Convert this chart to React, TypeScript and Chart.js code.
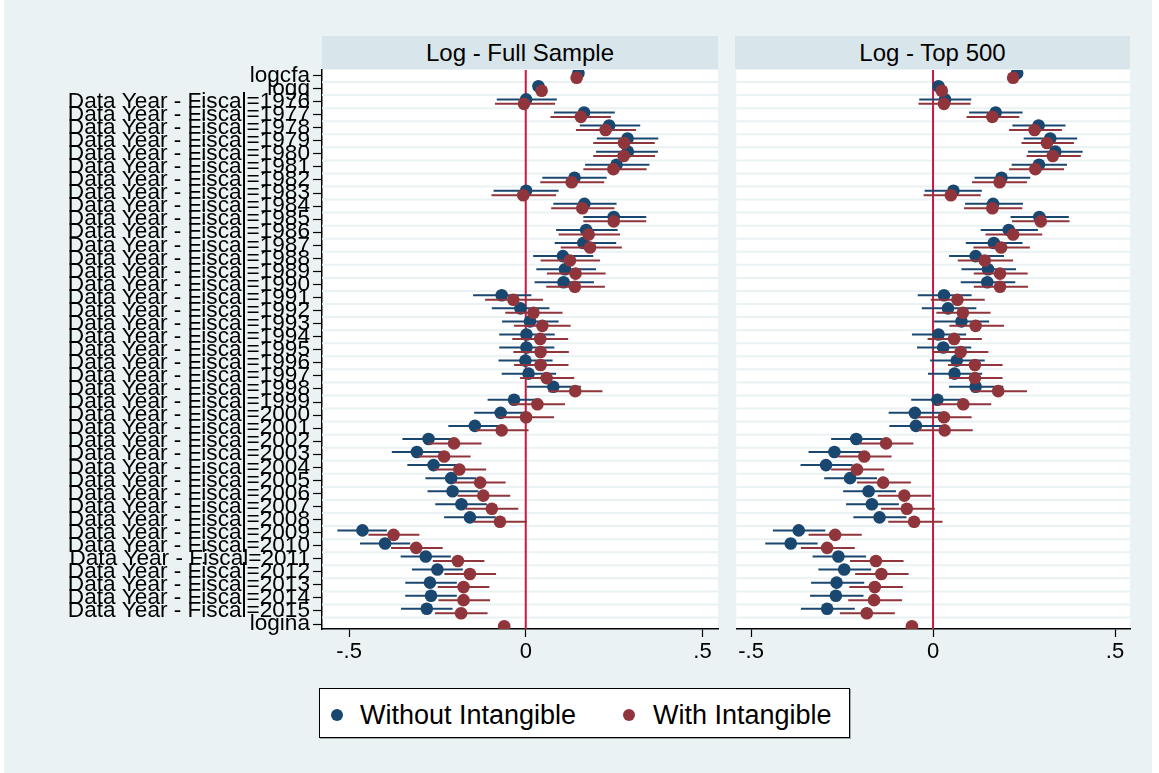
import React, { useEffect, useRef } from "react";
import { Chart, registerables } from "chart.js";

Chart.register(...registerables);

const FONT = '"Liberation Sans", Arial, Helvetica, sans-serif';
const BLUE = "#1A476F";
const RED = "#90353B";
const ZERO_LINE = "#C81840";
const GRID = "#EAF2F3";

// Rows (top to bottom)
const years = [
  1976, 1977, 1978, 1979, 1980, 1981, 1982, 1983, 1984, 1985,
  1986, 1987, 1988, 1989, 1990, 1991, 1992, 1993, 1994, 1995,
  1996, 1997, 1998, 1999, 2000, 2001, 2002, 2003, 2004, 2005,
  2006, 2007, 2008, 2009, 2010, 2011, 2012, 2013, 2014, 2015,
];
const rowLabels: string[] = ["logcfa", "logq", ...years.map((y) => `Data Year - Fiscal=${y}`), "logina"];

const xTickValues = [-0.5, 0, 0.5];
const xTickLabels = ["-.5", "0", ".5"];

const panelTitles = ["Log - Full Sample", "Log - Top 500"];
const seriesNames = ["Without Intangible", "With Intangible"];

// ---------- Log - Full Sample ----------
const fullWithoutCoef = [
  0.149, 0.036,
  0.001, 0.165, 0.236, 0.288, 0.289, 0.257, 0.138, 0.001, 0.166, 0.249,
  0.171, 0.163, 0.105, 0.111, 0.107, -0.068, -0.015, 0.012, 0.002, 0.002,
  -0.001, 0.008, 0.078, -0.033, -0.071, -0.144, -0.275, -0.308, -0.261, -0.211,
  -0.207, -0.182, -0.158, -0.462, -0.398, -0.283, -0.250, -0.271, -0.268, -0.280,
  null,
];
const fullWithoutLo = [
  null, null,
  -0.082, 0.080, 0.153, 0.201, 0.199, 0.168, 0.047, -0.091, 0.078, 0.163,
  0.086, 0.082, 0.021, 0.030, 0.025, -0.149, -0.096, -0.067, -0.075, -0.075,
  -0.077, -0.068, 0.003, -0.108, -0.146, -0.219, -0.349, -0.379, -0.335, -0.284,
  -0.278, -0.256, -0.231, -0.533, -0.469, -0.354, -0.322, -0.341, -0.341, -0.353,
  null,
];
const fullWithoutHi = [
  null, null,
  0.088, 0.252, 0.324, 0.375, 0.374, 0.350, 0.229, 0.093, 0.257, 0.341,
  0.260, 0.256, 0.191, 0.199, 0.193, 0.016, 0.067, 0.093, 0.082, 0.081,
  0.076, 0.086, 0.156, 0.042, 0.003, -0.070, -0.209, -0.238, -0.192, -0.141,
  -0.134, -0.110, -0.085, -0.393, -0.327, -0.212, -0.178, -0.195, -0.195, -0.207,
  null,
];
const fullWithCoef = [
  0.144, 0.045,
  -0.005, 0.156, 0.226, 0.278, 0.277, 0.248, 0.130, -0.007, 0.160, 0.249,
  0.178, 0.182, 0.125, 0.141, 0.139, -0.035, 0.022, 0.047, 0.041, 0.042,
  0.042, 0.059, 0.140, 0.033, 0.001, -0.068, -0.203, -0.231, -0.188, -0.129,
  -0.120, -0.096, -0.073, -0.374, -0.310, -0.192, -0.158, -0.176, -0.176, -0.183,
  -0.061,
];
const fullWithLo = [
  null, null,
  -0.087, 0.070, 0.142, 0.191, 0.191, 0.163, 0.041, -0.097, 0.072, 0.163,
  0.093, 0.099, 0.042, 0.060, 0.058, -0.115, -0.058, -0.033, -0.038, -0.035,
  -0.033, -0.016, 0.064, -0.042, -0.075, -0.143, -0.275, -0.304, -0.258, -0.203,
  -0.193, -0.170, -0.148, -0.445, -0.381, -0.263, -0.230, -0.249, -0.247, -0.257,
  null,
];
const fullWithHi = [
  null, null,
  0.083, 0.241, 0.312, 0.365, 0.366, 0.342, 0.222, 0.086, 0.251, 0.341,
  0.267, 0.272, 0.210, 0.226, 0.224, 0.049, 0.104, 0.127, 0.120, 0.122,
  0.121, 0.137, 0.217, 0.111, 0.080, 0.008, -0.125, -0.156, -0.112, -0.057,
  -0.044, -0.021, 0.003, -0.301, -0.235, -0.117, -0.084, -0.103, -0.101, -0.108,
  null,
];

// ---------- Log - Top 500 ----------
const topWithoutCoef = [
  0.231, 0.015,
  0.033, 0.172, 0.290, 0.322, 0.336, 0.291, 0.188, 0.056, 0.165, 0.292,
  0.208, 0.167, 0.117, 0.151, 0.149, 0.030, 0.041, 0.078, 0.015, 0.028,
  0.065, 0.059, 0.117, 0.012, -0.050, -0.047, -0.211, -0.271, -0.294, -0.228,
  -0.177, -0.168, -0.147, -0.369, -0.391, -0.260, -0.244, -0.265, -0.267, -0.291,
  null,
];
const topWithoutLo = [
  null, null,
  -0.038, 0.099, 0.218, 0.249, 0.261, 0.216, 0.114, -0.023, 0.088, 0.213,
  0.131, 0.090, 0.044, 0.078, 0.076, -0.042, -0.031, 0.003, -0.058, -0.044,
  -0.008, -0.014, 0.044, -0.060, -0.122, -0.120, -0.280, -0.342, -0.364, -0.299,
  -0.247, -0.239, -0.219, -0.440, -0.461, -0.331, -0.315, -0.335, -0.338, -0.363,
  null,
];
const topWithoutHi = [
  null, null,
  0.105, 0.246, 0.364, 0.396, 0.411, 0.368, 0.267, 0.134, 0.247, 0.373,
  0.288, 0.246, 0.195, 0.228, 0.226, 0.106, 0.119, 0.154, 0.091, 0.105,
  0.142, 0.135, 0.193, 0.085, 0.023, 0.025, -0.139, -0.198, -0.221, -0.154,
  -0.102, -0.094, -0.073, -0.296, -0.317, -0.184, -0.170, -0.189, -0.191, -0.215,
  null,
];
const topWithCoef = [
  0.220, 0.024,
  0.030, 0.163, 0.279, 0.313, 0.329, 0.281, 0.183, 0.049, 0.163, 0.296,
  0.220, 0.187, 0.142, 0.184, 0.184, 0.067, 0.082, 0.117, 0.058, 0.076,
  0.115, 0.115, 0.179, 0.083, 0.030, 0.032, -0.129, -0.189, -0.209, -0.137,
  -0.079, -0.072, -0.052, -0.269, -0.291, -0.157, -0.142, -0.160, -0.162, -0.182,
  -0.058,
];
const topWithLo = [
  null, null,
  -0.040, 0.092, 0.209, 0.243, 0.257, 0.209, 0.107, -0.026, 0.085, 0.217,
  0.144, 0.111, 0.068, 0.112, 0.112, -0.006, 0.009, 0.045, -0.015, 0.002,
  0.041, 0.044, 0.108, 0.010, -0.042, -0.040, -0.201, -0.260, -0.280, -0.209,
  -0.152, -0.143, -0.123, -0.342, -0.363, -0.228, -0.214, -0.230, -0.233, -0.256,
  null,
];
const topWithHi = [
  null, null,
  0.103, 0.237, 0.354, 0.387, 0.406, 0.360, 0.258, 0.131, 0.245, 0.375,
  0.300, 0.266, 0.220, 0.260, 0.261, 0.142, 0.158, 0.195, 0.134, 0.152,
  0.191, 0.191, 0.258, 0.160, 0.106, 0.109, -0.054, -0.114, -0.134, -0.061,
  -0.005, 0.005, 0.026, -0.196, -0.215, -0.081, -0.067, -0.083, -0.085, -0.105,
  null,
];

type Arr = (number | null)[];

function ciData(lo: Arr, hi: Arr, off: number) {
  const out: { x: number | null; y: number | null }[] = [];
  lo.forEach((l, i) => {
    const h = hi[i];
    if (l == null || h == null) return;
    out.push({ x: l, y: i + off }, { x: h, y: i + off }, { x: null, y: null });
  });
  return out;
}
function ptData(c: Arr, off: number) {
  const out: { x: number; y: number }[] = [];
  c.forEach((v, i) => {
    if (v != null) out.push({ x: v, y: i + off });
  });
  return out;
}

const OFF = 0.17;

const panelPlugin = {
  id: "panelDecor",
  beforeDraw(chart: any) {
    const { ctx, chartArea: a } = chart;
    ctx.save();
    ctx.fillStyle = "#FFFFFF";
    ctx.fillRect(a.left, a.top, a.right - a.left, a.bottom - a.top);
    ctx.restore();
  },
  beforeDatasetsDraw(chart: any) {
    const { ctx, chartArea: a, scales } = chart;
    const y = scales.y;
    const x = scales.x;
    ctx.save();
    ctx.strokeStyle = GRID;
    ctx.lineWidth = 2;
    for (let i = 0; i < rowLabels.length - 1; i++) {
      const py = y.getPixelForValue(i + 0.5);
      ctx.beginPath();
      ctx.moveTo(a.left, py);
      ctx.lineTo(a.right, py);
      ctx.stroke();
    }
    const px = x.getPixelForValue(0);
    ctx.strokeStyle = ZERO_LINE;
    ctx.lineWidth = 2;
    ctx.beginPath();
    ctx.moveTo(px, a.top);
    ctx.lineTo(px, a.bottom);
    ctx.stroke();
    ctx.restore();
  },
};

type PanelProps = {
  left: number;
  top: number;
  width: number;
  height: number;
  padding: { top: number; left: number; right: number; bottom: number };
  xMin: number;
  xMax: number;
  showY: boolean;
  yAxisWidth: number;
  woCoef: Arr; woLo: Arr; woHi: Arr;
  wCoef: Arr; wLo: Arr; wHi: Arr;
};

function Panel(p: PanelProps) {
  const ref = useRef<HTMLCanvasElement | null>(null);
  useEffect(() => {
    if (!ref.current) return;
    const chart = new Chart(ref.current, {
      type: "scatter",
      data: {
        datasets: [
          {
            label: seriesNames[1],
            data: ptData(p.wCoef, OFF),
            backgroundColor: RED,
            borderColor: RED,
            pointRadius: 6.3,
            pointBorderWidth: 0,
            showLine: false,
            clip: 0,
            order: 0,
          } as any,
          {
            label: seriesNames[1] + " CI",
            data: ciData(p.wLo, p.wHi, OFF),
            borderColor: RED,
            borderWidth: 2,
            pointRadius: 0,
            showLine: true,
            spanGaps: false,
            clip: 0,
            order: 1,
          } as any,
          {
            label: seriesNames[0],
            data: ptData(p.woCoef, -OFF),
            backgroundColor: BLUE,
            borderColor: BLUE,
            pointRadius: 6.3,
            pointBorderWidth: 0,
            showLine: false,
            clip: 0,
            order: 2,
          } as any,
          {
            label: seriesNames[0] + " CI",
            data: ciData(p.woLo, p.woHi, -OFF),
            borderColor: BLUE,
            borderWidth: 2,
            pointRadius: 0,
            showLine: true,
            spanGaps: false,
            clip: 0,
            order: 3,
          } as any,
        ],
      },
      options: {
        animation: false,
        responsive: false,
        maintainAspectRatio: false,
        devicePixelRatio: 1,
        layout: { padding: p.padding },
        plugins: {
          legend: { display: false },
          tooltip: { enabled: false },
          title: { display: false },
        },
        events: [],
        scales: {
          x: {
            type: "linear",
            min: p.xMin,
            max: p.xMax,
            afterBuildTicks: (s: any) => {
              s.ticks = xTickValues.map((v) => ({ value: v }));
            },
            afterFit: (s: any) => {
              s.height = 51;
              s.paddingLeft = 0;
              s.paddingRight = 0;
            },
            ticks: {
              autoSkip: false,
              maxRotation: 0,
              minRotation: 0,
              padding: 2,
              color: "#000",
              font: { family: FONT, size: 22 },
              callback: (_v: any, i: number) => xTickLabels[i],
            },
            grid: {
              drawOnChartArea: false,
              drawTicks: true,
              tickLength: 8,
              color: "#000",
              tickWidth: 1.2,
            },
            border: { display: true, color: "#000", width: 1.5 },
          },
          y: {
            type: "linear",
            reverse: true,
            min: -0.42,
            max: 42.38,
            display: p.showY,
            afterBuildTicks: (s: any) => {
              s.ticks = rowLabels.map((_, i) => ({ value: i }));
            },
            afterFit: (s: any) => {
              s.width = p.yAxisWidth;
              s.paddingTop = 0;
              s.paddingBottom = 0;
            },
            ticks: {
              autoSkip: false,
              padding: 3,
              color: "#000",
              font: { family: FONT, size: 22.6 },
              callback: (_v: any, i: number) => rowLabels[i],
            },
            grid: {
              drawOnChartArea: false,
              drawTicks: true,
              tickLength: 9,
              color: "#000",
              tickWidth: 1.2,
            },
            border: { display: true, color: "#000", width: 1.5 },
          },
        },
      },
      plugins: [panelPlugin],
    } as any);
    return () => chart.destroy();
  }, []);
  return (
    <canvas
      ref={ref}
      width={p.width}
      height={p.height}
      style={{ position: "absolute", left: p.left, top: p.top, width: p.width, height: p.height }}
    />
  );
}

const headerStyle: React.CSSProperties = {
  position: "absolute",
  top: 36,
  height: 33,
  lineHeight: "33px",
  background: "#D8E5EB",
  textAlign: "center",
  fontFamily: FONT,
  fontSize: 24,
  color: "#000",
  whiteSpace: "nowrap",
};

const legendText: React.CSSProperties = {
  position: "absolute",
  top: 700,
  height: 30,
  lineHeight: "30px",
  fontFamily: FONT,
  fontSize: 27,
  color: "#000",
  whiteSpace: "nowrap",
};

export default function App() {
  return (
    <div style={{ position: "fixed", left: 0, top: 0, width: 1159, height: 773, background: "#FFFFFF", overflow: "hidden" }}>
      <div style={{ position: "absolute", left: 4, top: 0, width: 1148, height: 773, background: "#EAF2F3" }} />
      <div style={{ ...headerStyle, left: 322, width: 396 }}>{panelTitles[0]}</div>
      <div style={{ ...headerStyle, left: 735, width: 395 }}>{panelTitles[1]}</div>
      <Panel
        left={0}
        top={50}
        width={725}
        height={630}
        padding={{ top: 20, left: 0, right: 7, bottom: 0 }}
        xMin={-0.5765}
        xMax={0.544}
        showY={true}
        yAxisWidth={322}
        woCoef={fullWithoutCoef}
        woLo={fullWithoutLo}
        woHi={fullWithoutHi}
        wCoef={fullWithCoef}
        wLo={fullWithLo}
        wHi={fullWithHi}
      />
      <Panel
        left={730}
        top={50}
        width={429}
        height={630}
        padding={{ top: 20, left: 5, right: 29, bottom: 0 }}
        xMin={-0.5405}
        xMax={0.5411}
        showY={false}
        yAxisWidth={0}
        woCoef={topWithoutCoef}
        woLo={topWithoutLo}
        woHi={topWithoutHi}
        wCoef={topWithCoef}
        wLo={topWithLo}
        wHi={topWithHi}
      />
      <div
        style={{
          position: "absolute",
          left: 319,
          top: 688,
          width: 531,
          height: 50,
          boxSizing: "border-box",
          background: "#FFFFFF",
          border: "1.5px solid #000",
          boxShadow: "1px 1px 0 #9AA",
        }}
      />
      <div style={{ position: "absolute", left: 331, top: 709, width: 12, height: 12, borderRadius: 6, background: BLUE }} />
      <div style={{ ...legendText, left: 360 }}>{seriesNames[0]}</div>
      <div style={{ position: "absolute", left: 623, top: 709, width: 12, height: 12, borderRadius: 6, background: RED }} />
      <div style={{ ...legendText, left: 653 }}>{seriesNames[1]}</div>
    </div>
  );
}
